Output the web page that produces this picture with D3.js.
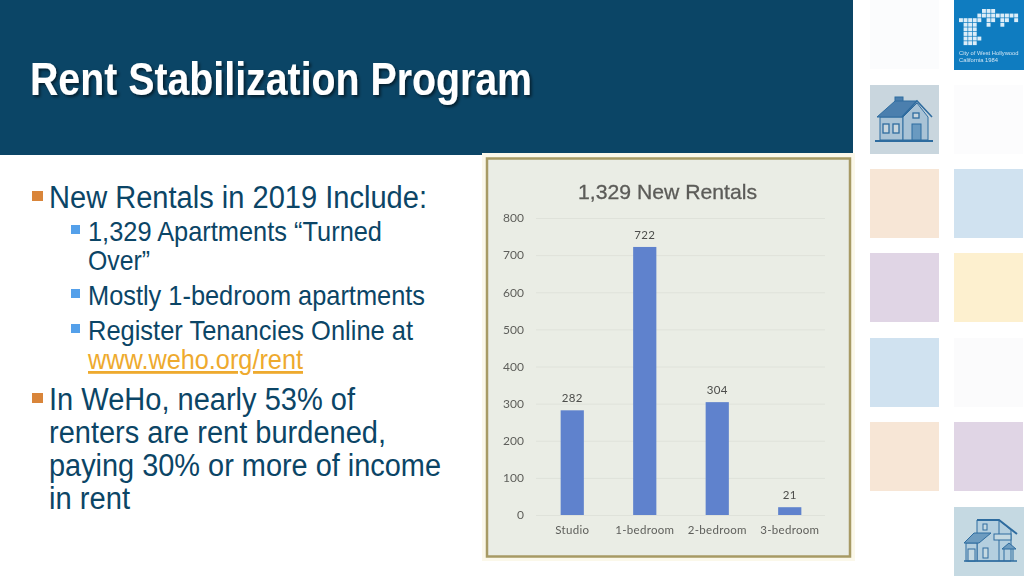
<!DOCTYPE html>
<html>
<head>
<meta charset="utf-8">
<script src="https://cdn.jsdelivr.net/npm/d3@7"></script>
<style>
  html, body { margin: 0; padding: 0; background: #fff; overflow: hidden; }
  svg { display: block; font-family: "Liberation Sans", sans-serif; }
</style>
</head>
<body>
<script>
const categories = ["Studio", "1-bedroom", "2-bedroom", "3-bedroom"];
const rentals = [282, 722, 304, 21];
const yTicks = [0, 100, 200, 300, 400, 500, 600, 700, 800];
const chartTitle = "1,329 New Rentals";
const slideTitle = "Rent Stabilization Program";

// level, text, baseline, right edge in the slide, bullet or not
const bullets = [
  [0, "New Rentals in 2019 Include:", 208, 427, true],
  [1, "1,329 Apartments “Turned", 241, 382, true],
  [1, "Over”", 270, 150, false],
  [1, "Mostly 1-bedroom apartments", 305, 425, true],
  [1, "Register Tenancies Online at", 340, 413, true],
  [2, "www.weho.org/rent", 369, 303, false],
  [0, "In WeHo, nearly 53% of", 410, 355, true],
  [0, "renters are rent burdened,", 443, 386, false],
  [0, "paying 30% or more of income", 476, 441, false],
  [0, "in rent", 509, 130, false]
];

// x column, y, colour
const tiles = [
  [870, 0, "#fbfcfd"],
  [954, 85, "#fcfcfd"],
  [870, 169, "#f7e6d6"],
  [954, 169, "#d0e2f0"],
  [870, 253, "#e0d5e5"],
  [954, 253, "#fdf0cf"],
  [870, 338, "#d0e2f0"],
  [954, 338, "#fbfbfc"],
  [870, 422, "#f7e6d6"],
  [954, 422, "#e0d5e5"]
];

const svg = d3.select("body").append("svg")
    .attr("width", 1024)
    .attr("height", 576);

const defs = svg.append("defs");
const shadow = defs.append("filter").attr("id", "titleShadow")
    .attr("x", "-5%").attr("y", "-20%").attr("width", "110%").attr("height", "150%");
shadow.append("feDropShadow")
    .attr("dx", 2).attr("dy", 2).attr("stdDeviation", 1.5)
    .attr("flood-color", "#000").attr("flood-opacity", 0.55);
const soft = defs.append("filter").attr("id", "soft");
soft.append("feGaussianBlur").attr("stdDeviation", 0.35);
const softer = defs.append("filter").attr("id", "softer");
softer.append("feGaussianBlur").attr("stdDeviation", 0.6);

// header band
svg.append("rect").attr("width", 853).attr("height", 155).attr("fill", "#0b4566");
svg.append("text")
    .attr("x", 30).attr("y", 95)
    .attr("font-size", 46).attr("font-weight", 700).attr("fill", "#fff")
    .attr("textLength", 502).attr("lengthAdjust", "spacingAndGlyphs")
    .attr("filter", "url(#titleShadow)")
    .text(slideTitle);

// right hand tiles
svg.append("g").selectAll("rect").data(tiles).join("rect")
    .attr("x", d => d[0]).attr("y", d => d[1])
    .attr("width", 69).attr("height", 69)
    .attr("fill", d => d[2]);

// logo
const logo = svg.append("g").attr("transform", "translate(954,0)");
logo.append("rect").attr("width", 70).attr("height", 70).attr("fill", "#0f7cc0");
const logoRows = [
  [5, 6, 7],
  [4, 5, 6, 7, 8, 9, 10, 11, 12],
  [0, 1, 2, 3, 4, 6, 7, 9, 10, 12],
  [1, 2, 3, 6, 9],
  [1, 2, 3],
  [1, 2, 3],
  [1, 2, 3, 4],
  [1, 2, 3]
];
const logoCells = logoRows.flatMap((cols, r) => cols.map(c => [c, r]));
const logoMarks = logo.append("g").attr("filter", "url(#soft)");
logoMarks.selectAll("rect").data(logoCells).join("rect")
    .attr("x", d => 5 + d[0] * 4.6).attr("y", d => 9 + d[1] * 4.6)
    .attr("width", 3.9).attr("height", 3.9)
    .attr("fill", "#dcedf8");
logoMarks.append("text").attr("x", 5).attr("y", 55).attr("font-size", 5.8).attr("fill", "#cfe4f3").text("City of West Hollywood");
logoMarks.append("text").attr("x", 5).attr("y", 62).attr("font-size", 5.8).attr("fill", "#cfe4f3").text("California 1984");

// house tile, upper
const ink = "#2f6c9f";
const house1 = svg.append("g").attr("transform", "translate(870,85)");
house1.append("rect").attr("width", 69).attr("height", 69).attr("fill", "#c9d6de");
const h1 = house1.append("g").attr("filter", "url(#softer)");
h1.append("rect").attr("x", 25).attr("y", 12).attr("width", 8).attr("height", 9).attr("fill", "#4b7fae").attr("stroke", ink);
h1.append("path").attr("d", "M10 32H33V55H10Z").attr("fill", "#a9c3d6").attr("stroke", ink);
h1.append("path").attr("d", "M33 32L47 18L58 32V55H33Z").attr("fill", "#a9c3d6").attr("stroke", ink);
h1.append("path").attr("d", "M7 32L25 16H47L32 32Z").attr("fill", "#4b7fae").attr("stroke", ink);
h1.append("path").attr("d", "M32 32L47 16L62 32").attr("fill", "none").attr("stroke", ink).attr("stroke-width", 1.6);
h1.selectAll(".w").data([[13, 39, 6, 9], [23, 39, 6, 9], [43, 28, 6, 5]]).join("rect")
    .attr("x", d => d[0]).attr("y", d => d[1]).attr("width", d => d[2]).attr("height", d => d[3])
    .attr("fill", "#c9d6de").attr("stroke", ink).attr("stroke-width", 1.3);
h1.append("rect").attr("x", 42).attr("y", 39).attr("width", 9).attr("height", 16).attr("fill", "#6a9ac0").attr("stroke", ink);
h1.append("path").attr("d", "M5 56H63").attr("stroke", ink).attr("stroke-width", 2);

// house tile, lower
const house2 = svg.append("g").attr("transform", "translate(954,506)");
house2.append("rect").attr("y", 1).attr("width", 70).attr("height", 69).attr("fill", "#c5d9e2");
const h2 = house2.append("g").attr("filter", "url(#softer)");
h2.append("path").attr("d", "M23 14H45L57 24V55H23Z").attr("fill", "#b4cfdf").attr("stroke", ink);
h2.append("path").attr("d", "M23 14H45L63 28").attr("fill", "none").attr("stroke", ink).attr("stroke-width", 2);
h2.append("path").attr("d", "M45 14V55").attr("stroke", ink);
h2.append("rect").attr("x", 12).attr("y", 37).attr("width", 11).attr("height", 18).attr("fill", "#b4cfdf").attr("stroke", ink);
h2.append("path").attr("d", "M10 37L20 27H37L25 37Z").attr("fill", "#6d9cc0").attr("stroke", ink);
h2.selectAll(".w").data([[14, 43, 7, 12], [29, 18, 4, 6], [29, 42, 5, 10], [40, 28, 17, 6]]).join("rect")
    .attr("x", d => d[0]).attr("y", d => d[1]).attr("width", d => d[2]).attr("height", d => d[3])
    .attr("fill", "#c5d9e2").attr("stroke", ink);
h2.append("path").attr("d", "M48 43L55 37L62 43Z M50 43V55 M59 43V55").attr("fill", "#6d9cc0").attr("stroke", ink);
h2.append("path").attr("d", "M10 55H63").attr("stroke", ink).attr("stroke-width", 1.5);

// bullet text
const textLeft = [49, 88, 88];
const textSize = [31, 28, 28];
const textColor = ["#0b4566", "#0b4566", "#eeaa2e"];
svg.append("g").selectAll("text").data(bullets).join("text")
    .attr("x", d => textLeft[d[0]])
    .attr("y", d => d[2])
    .attr("font-size", d => textSize[d[0]])
    .attr("fill", d => textColor[d[0]])
    .attr("text-decoration", d => d[0] === 2 ? "underline" : null)
    .attr("textLength", d => d[3] - textLeft[d[0]])
    .attr("lengthAdjust", "spacingAndGlyphs")
    .text(d => d[1]);

const marks = bullets.filter(d => d[4]);
svg.append("g").selectAll("rect").data(marks).join("rect")
    .attr("x", d => d[0] === 0 ? 32 : 71)
    .attr("y", d => d[0] === 0 ? d[2] - 17 : d[2] - 16)
    .attr("width", d => d[0] === 0 ? 11 : 9)
    .attr("height", d => d[0] === 0 ? 10 : 9)
    .attr("fill", d => d[0] === 0 ? "#d9853a" : "#54a0ea");

// chart picture frame
svg.append("rect").attr("x", 482).attr("y", 153).attr("width", 373).attr("height", 408).attr("fill", "#fbf8ea");
svg.append("rect").attr("x", 487).attr("y", 158.5).attr("width", 363).attr("height", 398)
    .attr("fill", "#eaede5").attr("stroke", "#a79a64").attr("stroke-width", 2.5);

const x = d3.scaleBand().domain(categories).range([536, 826]).paddingInner(0.68).paddingOuter(0.34);
const y = d3.scaleLinear().domain([0, 800]).range([515, 218]);

const chart = svg.append("g").attr("filter", "url(#soft)");

chart.append("text")
    .attr("x", 667.5).attr("y", 199)
    .attr("text-anchor", "middle")
    .attr("font-size", 21).attr("fill", "#5b5b58")
    .attr("stroke", "#5b5b58").attr("stroke-width", 0.3)
    .attr("textLength", 179).attr("lengthAdjust", "spacingAndGlyphs")
    .text(chartTitle);

const yAxis = chart.append("g")
    .attr("transform", "translate(536,0)")
    .call(d3.axisLeft(y).tickValues(yTicks).tickSize(-289).tickPadding(12));
yAxis.select(".domain").remove();
yAxis.selectAll("line").attr("stroke", "#dfe2da");
yAxis.selectAll("text")
    .attr("font-family", "Lato, sans-serif")
    .attr("font-size", 12).attr("fill", "#5e5f5b");

const xAxis = chart.append("g")
    .attr("transform", "translate(0,515)")
    .call(d3.axisBottom(x).tickSize(0).tickPadding(11));
xAxis.select(".domain").remove();
xAxis.selectAll("text")
    .attr("font-family", "Lato, sans-serif")
    .attr("font-size", 11.5).attr("letter-spacing", 0.3).attr("fill", "#5e5f5b");

chart.append("g").selectAll("rect").data(rentals).join("rect")
    .attr("x", (d, i) => x(categories[i]))
    .attr("y", d => y(d))
    .attr("width", x.bandwidth())
    .attr("height", d => y(0) - y(d))
    .attr("fill", "#5f82cd");

chart.append("g").selectAll("text").data(rentals).join("text")
    .attr("x", (d, i) => x(categories[i]) + x.bandwidth() / 2)
    .attr("y", d => y(d) - 8)
    .attr("text-anchor", "middle")
    .attr("font-family", "Lato, sans-serif")
    .attr("font-size", 11.5).attr("letter-spacing", 0.4).attr("fill", "#4d4e4b")
    .text(d => d);
</script>
</body>
</html>
